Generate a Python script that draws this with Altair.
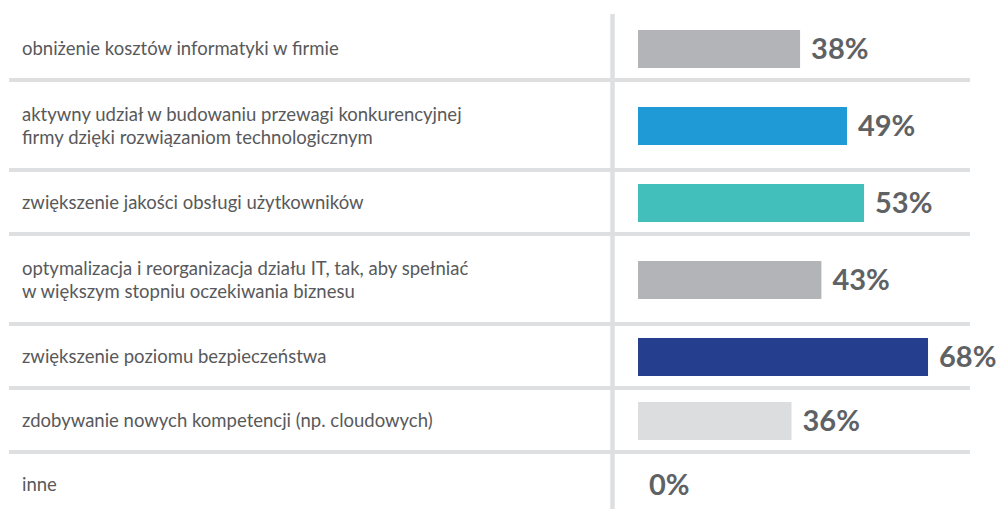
import altair as alt
import pandas as pd

categories = [
    "obniżenie kosztów informatyki w firmie",
    "aktywny udział w budowaniu przewagi konkurencyjnej\nfirmy dzięki rozwiązaniom technologicznym",
    "zwiększenie jakości obsługi użytkowników",
    "optymalizacja i reorganizacja działu IT, tak, aby spełniać\nw większym stopniu oczekiwania biznesu",
    "zwiększenie poziomu bezpieczeństwa",
    "zdobywanie nowych kompetencji (np. cloudowych)",
    "inne",
]
values = [38, 49, 53, 43, 68, 36, 0]
labels = ["38%", "49%", "53%", "43%", "68%", "36%", "0%"]

bar_colors = ["#b3b4b7", "#1f9ad6", "#42bfbb", "#b3b4b7", "#253f8e", "#dcdddf", "#dcdddf"]
grid_color = "#dedfe1"

df = pd.DataFrame({
    "order": list(range(len(categories))),
    "category": categories,
    "value": values,
    "label": labels,
})

base = (
    alt.Chart(df)
    .transform_calculate(lines="length(split(datum.category, '\\n'))")
    .transform_calculate(h="64 + 26 * (datum.lines - 1)")
    .transform_window(bottom="sum(h)", sort=[alt.SortField("order")], frame=[None, 0])
    .transform_calculate(
        center="datum.bottom - datum.h / 2",
        ty="datum.bottom - datum.h / 2 - (datum.lines - 1) * 11.5",
        y0="datum.bottom - datum.h / 2 - 18",
        y1="datum.bottom - datum.h / 2 + 20",
    )
)

xscale = alt.Scale(domain=[0, 100], range=[630, 1056.5], nice=False, zero=True)
yscale = alt.Scale(domain=[0, 500], range=[8, 508], nice=False, zero=False)

seps = base.transform_filter("datum.order < 6").mark_rule(
    color=grid_color, strokeWidth=4
).encode(
    x=alt.value(1), x2=alt.value(962),
    y=alt.Y("bottom:Q", scale=yscale, axis=None),
)

vline = alt.Chart(df).transform_filter("datum.order == 0").mark_rule(
    color=grid_color, strokeWidth=4.5
).encode(x=alt.value(604.5), y=alt.value(6), y2=alt.value(501))

bars = base.mark_rect().encode(
    x=alt.X("value:Q", scale=xscale, axis=None),
    x2=alt.datum(0),
    y=alt.Y("y0:Q", scale=yscale, axis=None),
    y2="y1:Q",
    color=alt.Color("category:N", scale=alt.Scale(domain=categories, range=bar_colors), legend=None),
)

pct = base.mark_text(
    align="left", baseline="middle", dx=11, dy=2,
    font="Lato", fontWeight="bold", fontSize=29, color="#5f6264",
).encode(
    x=alt.X("value:Q", scale=xscale, axis=None),
    y=alt.Y("center:Q", scale=yscale, axis=None),
    text="label:N",
)

cat_text = base.mark_text(
    align="left", baseline="middle", lineBreak="\n", lineHeight=23,
    font="Lato", fontSize=18.5, color="#58595b", dy=1,
).encode(
    x=alt.value(14),
    y=alt.Y("ty:Q", scale=yscale, axis=None),
    text="category:N",
)

chart = (
    alt.layer(seps, vline, bars, pct, cat_text)
    .properties(width=989, height=501, padding=0,
                autosize=alt.AutoSizeParams(type="none"))
    .configure_view(stroke=None)
)

chart.save("out.html", embed_options={"renderer": "svg", "actions": False})
